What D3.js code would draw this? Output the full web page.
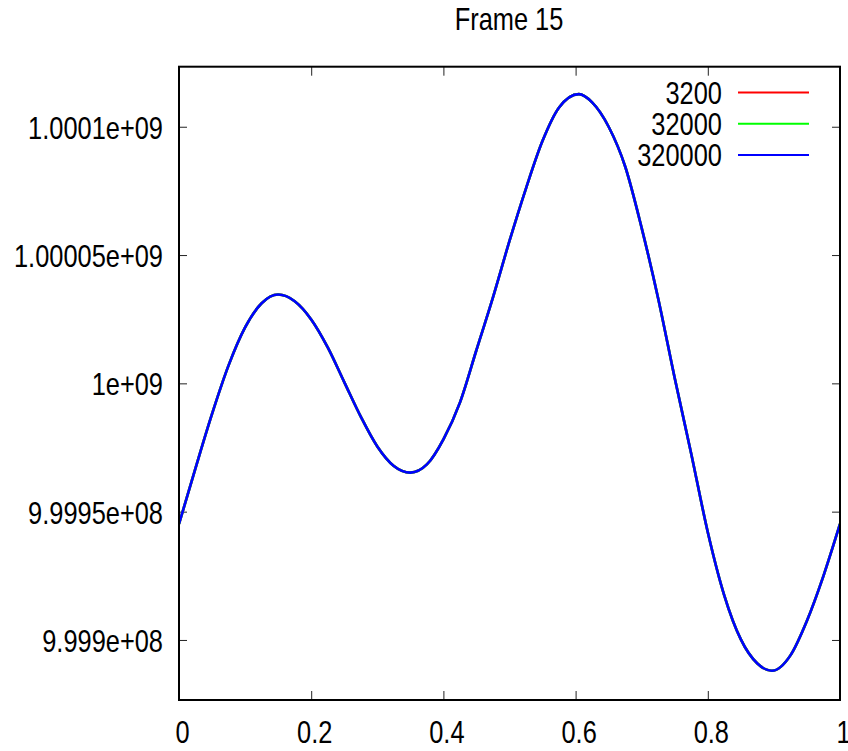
<!DOCTYPE html>
<html>
<head>
  <style type="text/css">
    body { margin: 0; background: #fff; }
    text { font-family: "Liberation Sans", Arial, sans-serif; font-size: 31px; fill: #000; }
    .tick line { stroke: #222; stroke-width: 1px; }
  </style>
</head>
<body>
<svg></svg>
<script src="https://d3js.org/d3.v7.min.js"></script>
<script>
    var width = 848;
    var height = 751;

    /* data: the three runs sit on top of each other */
    var xs = [0, 0.025, 0.05, 0.075, 0.1, 0.125, 0.15, 0.175, 0.2, 0.225,
              0.25, 0.275, 0.3, 0.325, 0.35, 0.375, 0.4, 0.425, 0.45, 0.475,
              0.5, 0.525, 0.55, 0.575, 0.605, 0.625, 0.65, 0.675, 0.7, 0.725,
              0.75, 0.775, 0.8, 0.825, 0.85, 0.875, 0.897, 0.925, 0.95, 0.975, 1];
    var vals3200 = [999945200, 999967000, 999988100, 1000007000, 1000021800, 1000031200, 1000034600, 1000032000, 1000024900, 1000014000,
                    1000000500, 999987000, 999975400, 999967800, 999965200, 999968400, 999978200, 999992500, 1000013000, 1000033500,
                    1000055500, 1000076000, 1000094500, 1000107500, 1000112700, 1000109500, 1000100000, 1000084500, 1000060500, 1000033000,
                    1000002000, 999972500, 999942000, 999917300, 999900200, 999890800, 999888000, 999894000, 999907500, 999925000,
                    999945200];
    var vals32000 = vals3200.slice();
    var vals320000 = vals3200.slice();

    var seriesNames = ['3200', '32000', '320000'];
    var seriesColors = ['#ff0000', '#00ff00', '#0000ff'];
    var seriesVals = [vals3200, vals32000, vals320000];

    var xTicks = [0, 0.2, 0.4, 0.6, 0.8, 1];
    var xTickLabels = ['0', '0.2', '0.4', '0.6', '0.8', '1'];
    var yTicks = [999900000, 999950000, 1000000000, 1000050000, 1000100000];
    var yTickLabels = ['9.999e+08', '9.9995e+08', '1e+09', '1.00005e+09', '1.0001e+09'];

    var plot = {left: 179, right: 840, top: 66.7, bottom: 700};
    var squeezeX = 0.82;

    var svg = d3.select('svg')
      .attr('width', width)
      .attr('height', height);

    var x = d3.scaleLinear().domain([0, 1]).range([plot.left, plot.right]);
    var y = d3.scaleLinear().domain([999876600, 1000123400]).range([plot.bottom, plot.top]);

    // the reference font is a narrow one: squeeze regular glyphs sideways
    function squeeze(sel, shiftX) {
      sel.each(function() {
        var t = d3.select(this);
        var tx = (+t.attr('x') || 0) + (shiftX || 0);
        var ty = +t.attr('y') || 0;
        t.attr('x', 0).attr('y', 0)
          .attr('transform', 'translate(' + tx + ',' + ty + ') scale(' + squeezeX + ',1)');
      });
    }

    // title
    svg.append('text')
      .attr('x', 509)
      .attr('y', 30)
      .attr('text-anchor', 'middle')
      .text('Frame 15')
      .call(squeeze);

    // axes with inward ticks, mirrored on top and right
    var bottomAxis = svg.append('g')
      .attr('transform', 'translate(0,' + plot.bottom + ')')
      .call(d3.axisBottom(x).tickValues(xTicks)
        .tickFormat(function(d, i) { return xTickLabels[i]; })
        .tickSizeInner(-9).tickSizeOuter(0).tickPadding(0));
    bottomAxis.selectAll('text')
      .attr('y', 43)
      .attr('dy', null)
      .attr('fill', '#000')
      .call(squeeze, 3);

    var leftAxis = svg.append('g')
      .attr('transform', 'translate(' + plot.left + ',0)')
      .call(d3.axisLeft(y).tickValues(yTicks)
        .tickFormat(function(d, i) { return yTickLabels[i]; })
        .tickSizeInner(-8).tickSizeOuter(0).tickPadding(16));
    leftAxis.selectAll('text')
      .attr('dy', '0.37em')
      .attr('fill', '#000')
      .call(squeeze);

    svg.append('g')
      .attr('transform', 'translate(0,' + plot.top + ')')
      .call(d3.axisTop(x).tickValues(xTicks).tickFormat('')
        .tickSizeInner(-9).tickSizeOuter(0));

    svg.append('g')
      .attr('transform', 'translate(' + plot.right + ',0)')
      .call(d3.axisRight(y).tickValues(yTicks).tickFormat('')
        .tickSizeInner(-8).tickSizeOuter(0));

    svg.selectAll('.domain').remove();

    // curves
    var line = d3.line()
      .x(function(d) { return x(d[0]); })
      .y(function(d) { return y(d[1]); })
      .curve(d3.curveMonotoneX);

    svg.append('defs').append('clipPath')
      .attr('id', 'clip')
      .append('rect')
      .attr('x', plot.left).attr('y', plot.top)
      .attr('width', plot.right - plot.left)
      .attr('height', plot.bottom - plot.top);

    svg.append('g')
      .attr('clip-path', 'url(#clip)')
      .selectAll('path')
      .data(seriesVals)
      .enter()
      .append('path')
      .attr('fill', 'none')
      .attr('stroke', function(d, i) { return seriesColors[i]; })
      .attr('stroke-width', 2.6)
      .attr('d', function(vals) {
        return line(vals.map(function(v, i) { return [xs[i], v]; }));
      });

    // legend
    var legend = svg.append('g')
      .selectAll('g')
      .data(seriesNames)
      .enter()
      .append('g')
      .attr('transform', function(d, i) { return 'translate(0,' + (92.5 + i * 31.3) + ')'; });

    legend.append('text')
      .attr('x', 722)
      .attr('y', 11)
      .attr('text-anchor', 'end')
      .text(function(d) { return d; })
      .call(squeeze);

    legend.append('line')
      .attr('x1', 738).attr('x2', 809)
      .attr('y1', 0).attr('y2', 0)
      .attr('stroke', function(d, i) { return seriesColors[i]; })
      .attr('stroke-width', 2);

    // frame
    svg.append('rect')
      .attr('x', plot.left)
      .attr('y', plot.top)
      .attr('width', plot.right - plot.left)
      .attr('height', plot.bottom - plot.top)
      .attr('fill', 'none')
      .attr('stroke', '#000')
      .attr('stroke-width', 2);
</script>
</body>
</html>
